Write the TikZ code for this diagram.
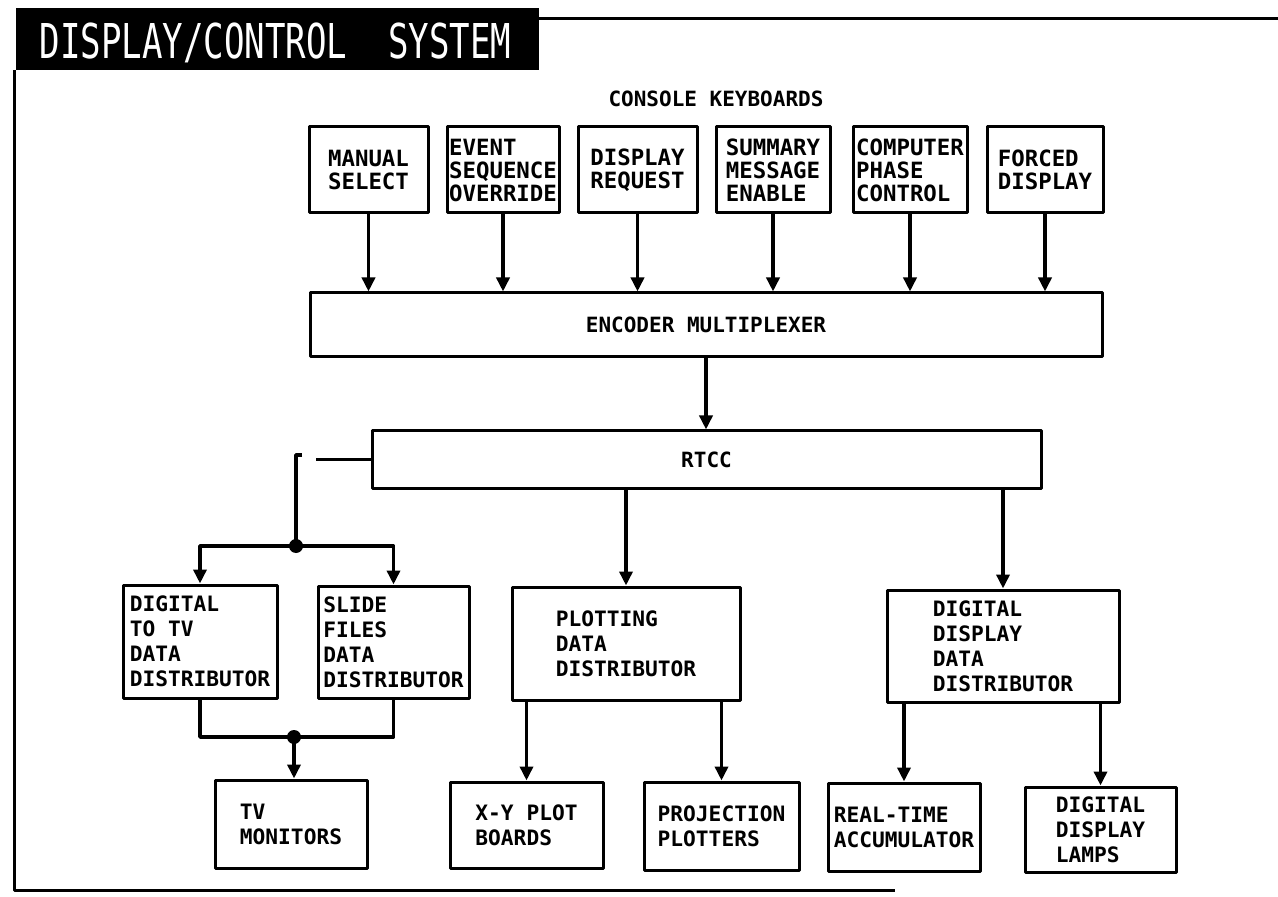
\documentclass[tikz,border=0pt]{standalone}
\usepackage{fontspec}
\setmonofont{DejaVu Sans Mono}
\usetikzlibrary{arrows.meta}
\tikzset{
	keybox/.style={draw, line width=1.5pt, minimum height=43pt, inner sep=1pt, align=left,
		font=\fontsize{11.2}{11.5}\selectfont\ttfamily\bfseries},
	bus/.style={draw, line width=1.5pt, inner sep=1pt,
		font=\fontsize{10.5}{12.5}\selectfont\ttfamily\bfseries},
	unitbox/.style={draw, line width=1.5pt, inner sep=1pt, align=left,
		font=\fontsize{10.6}{12.5}\selectfont\ttfamily\bfseries},
	flow/.style={->, line width=1.9pt},
	wire/.style={line width=1.9pt}
}
\begin{document}
\begin{tikzpicture}[x=0.5pt, y=-0.5pt, line join=round, >={Triangle[length=7pt,width=6.5pt]}]
		\useasboundingbox (0,0) rectangle (1278,897);
		% title and frame
		\fill (16,8) rectangle (539,70);
		\node[text=white, inner sep=0pt] (title) at (275.5,42.5)
			{\scalebox{0.71}[1]{\fontsize{24}{24}\selectfont\ttfamily DISPLAY/CONTROL\ \ SYSTEM}};
		\draw[line width=1.5pt] (539,19) -- (1278,19) (14,70) -- (14,890) -- (895,890);
		\node[font=\fontsize{10.5}{12.5}\selectfont\ttfamily\bfseries] (kbd) at (716,99) {CONSOLE KEYBOARDS};
		% keyboards
		\foreach \n/\x/\w/\t in {man/368.5/59.5/{MANUAL\\SELECT}, evt/503/56/{EVENT\\SEQUENCE\\OVERRIDE},
			req/637.5/59.5/{DISPLAY\\REQUEST}, sum/773/57/{SUMMARY\\MESSAGE\\ENABLE},
			cpc/910/57/{COMPUTER\\PHASE\\CONTROL}, frc/1045/58/{FORCED\\DISPLAY}}
			\node[keybox, minimum width=\w pt] (\n) at (\x,170) {\t};
		\node[bus, minimum width=396pt, minimum height=32pt] (enc) at (706,325) {ENCODER MULTIPLEXER};
		\node[bus, minimum width=334.5pt, minimum height=28.5pt] (rtcc) at (706.5,459.5) {RTCC};
		\foreach \n in {man,evt,req,sum,cpc,frc}
			\draw[flow] (\n.south) -- (\n.south |- enc.north);
		\draw[flow] (enc.south) -- (enc.south |- rtcc.north);
		% distributors and outputs
		\foreach \n/\x/\y/\w/\h/\t in {digtv/200/641.5/77/56.5/{DIGITAL\\TO TV\\DATA\\DISTRIBUTOR},
			slide/393.5/642/75.5/56/{SLIDE\\FILES\\DATA\\DISTRIBUTOR},
			plot/626/643.5/114/56.5/{PLOTTING\\DATA\\DISTRIBUTOR},
			ddd/1003/646/116/56/{DIGITAL\\DISPLAY\\DATA\\DISTRIBUTOR},
			tvmon/291/824/76/44/{TV\\MONITORS}, xy/526.5/825/76.5/43/{X-Y PLOT\\BOARDS},
			proj/721.5/826/77.5/44/{PROJECTION\\PLOTTERS}, rta/904/827/76/44/{REAL-TIME\\ACCUMULATOR},
			lamps/1100.5/829.5/75.5/42.5/{DIGITAL\\DISPLAY\\LAMPS}}
			\node[unitbox, minimum width=\w pt, minimum height=\h pt] (\n) at (\x,\y) {\t};
		\draw[flow] (plot.north |- rtcc.south) -- (plot.north);
		\draw[flow] (ddd.north |- rtcc.south) -- (ddd.north);
		\draw[flow] (xy.north |- plot.south) -- (xy.north);
		\draw[flow] (proj.north |- plot.south) -- (proj.north);
		\draw[flow] (rta.north |- ddd.south) -- (rta.north);
		\draw[flow] (lamps.north |- ddd.south) -- (lamps.north);
		% tv branch
		\path (316,459.5) coordinate (R) (296,455) coordinate (S) (302,455) coordinate (T)
			(296,546) coordinate (J) (294,737) coordinate (K);
		\draw[wire] (rtcc.west) -- (R);
		\draw[wire] (T) -- (S) -- (J);
		\draw[flow] (J) -| (digtv.north);
		\draw[flow] (J) -| (slide.north);
		\draw[wire] (digtv.south) |- (K) -| (slide.south);
		\draw[flow] (K) -- (K |- tvmon.north);
		\foreach \p in {J,K} \fill (\p) circle (3.5pt);
\end{tikzpicture}
\end{document}
